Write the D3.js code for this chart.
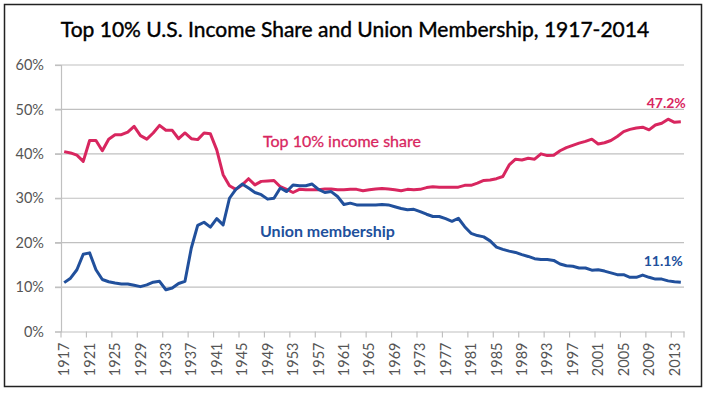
<!DOCTYPE html>
<html>
<head>
<meta charset="utf-8">
<script src="https://cdn.jsdelivr.net/npm/d3@7"></script>
<style>
  body { margin: 0; background: #fff; }
  svg { display: block; font-family: Lato, "Open Sans", sans-serif; }
</style>
</head>
<body>
<div id="chart"></div>
<script>
// years 1917-2014
const years = d3.range(1917, 2015);

// top 10% income share, %
const incomeShare = [
  40.5, 40.2, 39.7, 38.3, 43.0, 43.0, 40.7, 43.3, 44.3, 44.3, // 1917-1926
  44.9, 46.2, 44.1, 43.3, 44.7, 46.4, 45.3, 45.3, 43.4, 44.7, // 1927-1936
  43.4, 43.2, 44.7, 44.5, 40.9, 35.3, 32.8, 32.0, 33.0, 34.4, // 1937-1946
  33.0, 33.8, 33.9, 34.0, 32.6, 32.0, 31.3, 32.0, 31.9, 31.9, // 1947-1956
  31.9, 32.1, 32.1, 31.9, 31.9, 32.0, 32.0, 31.7, 31.9, 32.1, // 1957-1966
  32.2, 32.1, 31.9, 31.7, 32.0, 31.9, 32.0, 32.4, 32.6, 32.5, // 1967-1976
  32.5, 32.5, 32.5, 32.9, 32.9, 33.4, 34.0, 34.1, 34.4, 34.9, // 1977-1986
  37.5, 38.8, 38.6, 39.0, 38.8, 40.0, 39.6, 39.7, 40.7, 41.4, // 1987-1996
  41.9, 42.4, 42.8, 43.3, 42.2, 42.5, 43.0, 43.9, 45.0, 45.5, // 1997-2006
  45.8, 46.0, 45.4, 46.5, 46.9, 47.8, 47.1, 47.2              // 2007-2014
];

// union membership, % of workforce
const unionShare = [
  11.0, 12.0, 13.9, 17.4, 17.7, 13.9, 11.7, 11.2, 10.9, 10.7, // 1917-1926
  10.7, 10.4, 10.1, 10.5, 11.1, 11.3, 9.4, 9.8, 10.8, 11.3,   // 1927-1936
  18.8, 23.9, 24.6, 23.5, 25.4, 24.0, 30.0, 32.0, 33.2, 32.3, // 1937-1946
  31.3, 30.8, 29.8, 30.0, 32.3, 31.5, 33.0, 32.8, 32.8, 33.2, // 1947-1956
  32.0, 31.3, 31.5, 30.4, 28.6, 28.9, 28.5, 28.5, 28.5, 28.5, // 1957-1966
  28.6, 28.5, 28.1, 27.7, 27.4, 27.5, 27.0, 26.4, 25.9, 25.9, // 1967-1976
  25.4, 24.8, 25.5, 23.6, 22.1, 21.6, 21.3, 20.4, 19.0, 18.5, // 1977-1986
  18.1, 17.8, 17.3, 16.9, 16.4, 16.2, 16.2, 16.0, 15.2, 14.8, // 1987-1996
  14.7, 14.3, 14.3, 13.8, 13.9, 13.6, 13.2, 12.8, 12.8, 12.2, // 1997-2006
  12.2, 12.7, 12.2, 11.8, 11.8, 11.4, 11.2, 11.1              // 2007-2014
];

const yTicks = [0, 10, 20, 30, 40, 50, 60];
const labelYears = d3.range(1917, 2015, 4);

const redColor = "#D8265F";
const blueColor = "#21509C";

const width = 709, height = 393;
const margin = { top: 65, right: 25, bottom: 61.5, left: 61 };
const plotW = width - margin.left - margin.right;
const plotH = height - margin.top - margin.bottom;

const svg = d3.select("#chart").append("svg")
  .attr("width", width)
  .attr("height", height);

// outer frame
svg.append("rect")
  .attr("x", 4.5).attr("y", 4.5)
  .attr("width", 697).attr("height", 382)
  .attr("fill", "#fff")
  .attr("stroke", "#222")
  .attr("stroke-width", 1.5);

svg.append("text")
  .attr("x", 355)
  .attr("y", 37)
  .attr("text-anchor", "middle")
  .attr("font-size", "21px")
  .attr("fill", "#000")
  .style("stroke", "#000")
  .style("stroke-width", 0.4)
  .text("Top 10% U.S. Income Share and Union Membership, 1917-2014");

const g = svg.append("g")
  .attr("transform", `translate(${margin.left},${margin.top})`);

const x = d3.scaleBand()
  .domain(years)
  .range([0, plotW])
  .padding(0);

const y = d3.scaleLinear()
  .domain([0, 60])
  .range([plotH, 0]);

const cx = d => x(d) + x.bandwidth() / 2;

// gridlines
g.selectAll(".grid")
  .data(yTicks.filter(d => d > 0))
  .enter().append("line")
  .attr("class", "grid")
  .attr("x1", -6).attr("x2", plotW)
  .attr("y1", d => y(d)).attr("y2", d => y(d))
  .attr("stroke", "#c0c0c0")
  .attr("stroke-width", 1.2);

// y axis
const yAxis = g.append("g")
  .call(d3.axisLeft(y).tickValues(yTicks).tickFormat(d => d + "%").tickSize(6).tickPadding(11));
yAxis.select(".domain").attr("stroke", "#c0c0c0").attr("stroke-width", 1.2);
yAxis.selectAll(".tick line").attr("stroke", "#c0c0c0").attr("stroke-width", 1.2);
yAxis.selectAll("text")
  .attr("fill", "#555")
  .attr("font-size", "14.5px")
  .attr("font-family", "Lato, sans-serif");

// x axis: labels at category centres, ticks between categories
const xAxis = g.append("g")
  .attr("transform", `translate(0,${plotH})`)
  .call(d3.axisBottom(x).tickValues(labelYears).tickSize(0).tickPadding(0));
xAxis.select(".domain").attr("stroke", "#c0c0c0").attr("stroke-width", 1.2);
xAxis.selectAll("text")
  .attr("fill", "#555")
  .attr("font-size", "14.5px")
  .attr("font-family", "Lato, sans-serif")
  .attr("text-anchor", "end")
  .attr("dy", "0.35em")
  .attr("transform", "translate(0,11) rotate(-90)")
  .attr("x", 0).attr("y", 0);

xAxis.selectAll(".xtick")
  .data(labelYears.concat([2015]))
  .enter().append("line")
  .attr("class", "xtick")
  .attr("x1", d => d === 2015 ? plotW : x(d))
  .attr("x2", d => d === 2015 ? plotW : x(d))
  .attr("y1", 0).attr("y2", 6)
  .attr("stroke", "#c0c0c0")
  .attr("stroke-width", 1.2);

// lines
const line = d3.line()
  .x((d, i) => cx(years[i]))
  .y(d => y(d));

g.append("path")
  .datum(incomeShare)
  .attr("fill", "none")
  .attr("stroke", redColor)
  .attr("stroke-width", 3)
  .attr("stroke-linejoin", "round")
  .attr("d", line);

g.append("path")
  .datum(unionShare)
  .attr("fill", "none")
  .attr("stroke", blueColor)
  .attr("stroke-width", 3)
  .attr("stroke-linejoin", "round")
  .attr("d", line);

// annotations
g.append("text")
  .attr("x", 202)
  .attr("y", 82)
  .attr("fill", redColor)
  .attr("font-size", "16px")
  .style("stroke", redColor)
  .style("stroke-width", 0.3)
  .text("Top 10% income share");

g.append("text")
  .attr("x", 199)
  .attr("y", 172)
  .attr("fill", blueColor)
  .attr("font-size", "16px")
  .attr("font-weight", "bold")
  .text("Union membership");

const last = years.length - 1;
g.append("text")
  .attr("x", cx(years[last]) + 5)
  .attr("y", y(incomeShare[last]) - 14)
  .attr("text-anchor", "end")
  .attr("fill", redColor)
  .attr("font-size", "14px")
  .attr("font-weight", "bold")
  .text(incomeShare[last].toFixed(1) + "%");

g.append("text")
  .attr("x", cx(years[last]) + 2)
  .attr("y", y(unionShare[last]) - 16)
  .attr("text-anchor", "end")
  .attr("fill", blueColor)
  .attr("font-size", "14px")
  .attr("font-weight", "bold")
  .text(unionShare[last].toFixed(1) + "%");
</script>
</body>
</html>
